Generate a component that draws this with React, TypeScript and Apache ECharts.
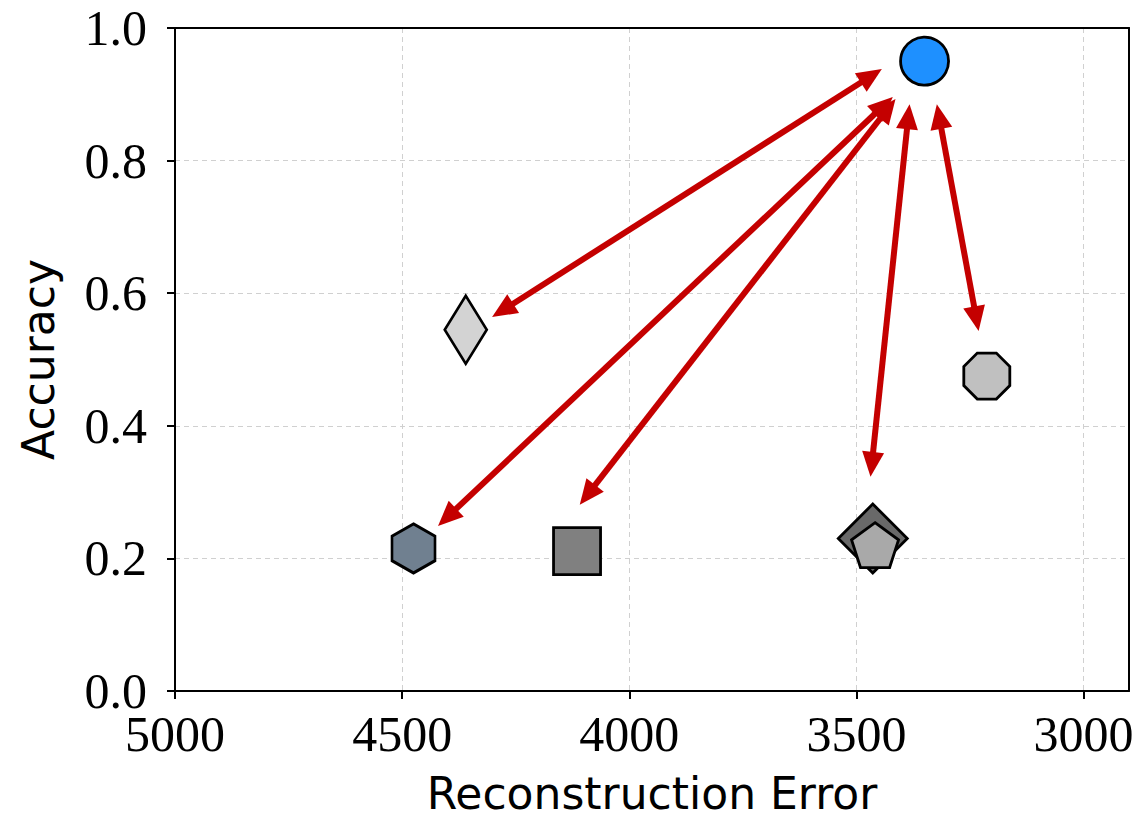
import React, { useEffect, useRef } from "react";
import * as echarts from "echarts";

// Marker values (Reconstruction Error, Accuracy)
const errors = [3350, 4360, 4475, 4115, 3464, 3459, 3213];
const accuracies = [0.95, 0.545, 0.215, 0.211, 0.23, 0.22, 0.475];

// Double-headed arrows (data coordinates)
const arrowFromX = [3444, 3420, 3414, 3383, 3323];
const arrowFromY = [0.938, 0.896, 0.893, 0.885, 0.885];
const arrowToX = [4302, 4421, 4109, 3469, 3231];
const arrowToY = [0.564, 0.249, 0.281, 0.323, 0.543];

// Axis ticks
const xTicks = [3000, 3500, 4000, 4500, 5000];

const RED = "#c40000";
const HEX = "path://M0,-1 L0.866,-0.5 L0.866,0.5 L0,1 L-0.866,0.5 L-0.866,-0.5 Z";
const PENT = "path://M0,-1 L0.951,-0.309 L0.588,0.809 L-0.588,0.809 L-0.951,-0.309 Z";
const OCT =
  "path://M-0.383,-0.924 L0.383,-0.924 L0.924,-0.383 L0.924,0.383 L0.383,0.924 L-0.383,0.924 L-0.924,0.383 L-0.924,-0.383 Z";

const markerStyles = [
  { symbol: "circle", size: 48, color: "#1e90ff" },
  { symbol: "diamond", size: [42, 68], color: "#d3d3d3" },
  { symbol: HEX, size: [43, 49], color: "#708090" },
  { symbol: "rect", size: 47, color: "#808080" },
  { symbol: "diamond", size: [69, 69], color: "#696969" },
  { symbol: PENT, size: [47, 45], color: "#a9a9a9" },
  { symbol: OCT, size: 46, color: "#c0c0c0" },
];

export default function App() {
  const ref = useRef<HTMLDivElement>(null);
  useEffect(() => {
    if (!ref.current) return;
    const chart = echarts.init(ref.current, null, { renderer: "svg" });
    const serifFont = "Liberation Serif";
    const scatterSeries = errors.map((e, i) => ({
      type: "scatter",
      data: [[e, accuracies[i]]],
      symbol: markerStyles[i].symbol,
      symbolSize: markerStyles[i].size,
      itemStyle: {
        color: markerStyles[i].color,
        borderColor: "#000",
        borderWidth: 2.8,
        opacity: 1,
      },
      z: 3,
      emphasis: { disabled: true },
    }));
    const arrowData = arrowFromX.map((x, i) => [x, arrowFromY[i], arrowToX[i], arrowToY[i]]);
    const frameAxis = {
      type: "value",
      axisLine: { show: true, onZero: false, lineStyle: { color: "#000", width: 2 } },
      axisTick: { show: false },
      axisLabel: { show: false },
      splitLine: { show: false },
    };
    chart.setOption({
      animation: false,
      grid: {
        left: 175,
        right: 14,
        top: 28,
        bottom: 131,
      },
      xAxis: [
        {
          type: "value",
          inverse: true,
          min: 2900,
          max: 5000,
          name: "Reconstruction Error",
          nameLocation: "middle",
          nameGap: 80,
          nameTextStyle: { fontFamily: "DejaVu Sans", fontSize: 44, color: "#000" },
          axisLine: { show: true, onZero: false, lineStyle: { color: "#000", width: 2 } },
          axisTick: { show: true, customValues: xTicks, length: 8, lineStyle: { color: "#000", width: 2 } },
          axisLabel: {
            customValues: xTicks,
            margin: 25,
            fontFamily: serifFont,
            fontSize: 50,
            lineHeight: 36,
            color: "#000",
            formatter: (v: number) => String(v),
          },
          splitLine: { show: true, lineStyle: { color: "#d0d0d0", width: 1, type: [5, 4] } },
        },
        { ...frameAxis, position: "top", inverse: true, min: 2900, max: 5000 },
      ],
      yAxis: [
        {
          type: "value",
          min: 0,
          max: 1,
          interval: 0.2,
          name: "Accuracy",
          nameLocation: "middle",
          nameGap: 115,
          nameTextStyle: { fontFamily: "DejaVu Sans", fontSize: 44, color: "#000" },
          axisLine: { show: true, onZero: false, lineStyle: { color: "#000", width: 2 } },
          axisTick: { show: true, length: 8, lineStyle: { color: "#000", width: 2 } },
          axisLabel: {
            margin: 28,
            fontFamily: serifFont,
            fontSize: 50,
            lineHeight: 36,
            color: "#000",
            formatter: (v: number) => v.toFixed(1),
          },
          splitLine: { show: true, lineStyle: { color: "#d0d0d0", width: 1, type: [5, 4] } },
        },
        { ...frameAxis, position: "right", min: 0, max: 1 },
      ],
      series: [
        ...scatterSeries,
        {
          type: "custom",
          coordinateSystem: "cartesian2d",
          data: arrowData,
          encode: { x: [0, 2], y: [1, 3] },
          z: 4,
          silent: true,
          renderItem: (params: any, api: any) => {
            const p1 = api.coord([api.value(0), api.value(1)]);
            const p2 = api.coord([api.value(2), api.value(3)]);
            const dx = p2[0] - p1[0];
            const dy = p2[1] - p1[1];
            const len = Math.hypot(dx, dy);
            const ux = dx / len;
            const uy = dy / len;
            const nx = -uy;
            const ny = ux;
            const hl = 25;
            const hw = 11;
            const a = [p1[0] + ux * hl, p1[1] + uy * hl];
            const b = [p2[0] - ux * hl, p2[1] - uy * hl];
            const la = [p1[0] + ux * hl * 0.6, p1[1] + uy * hl * 0.6];
            const lb = [p2[0] - ux * hl * 0.6, p2[1] - uy * hl * 0.6];
            return {
              type: "group",
              children: [
                {
                  type: "line",
                  shape: { x1: la[0], y1: la[1], x2: lb[0], y2: lb[1] },
                  style: { stroke: RED, lineWidth: 6 },
                },
                {
                  type: "polygon",
                  shape: {
                    points: [
                      p1,
                      [a[0] + nx * hw, a[1] + ny * hw],
                      [a[0] - nx * hw, a[1] - ny * hw],
                    ],
                  },
                  style: { fill: RED },
                },
                {
                  type: "polygon",
                  shape: {
                    points: [
                      p2,
                      [b[0] + nx * hw, b[1] + ny * hw],
                      [b[0] - nx * hw, b[1] - ny * hw],
                    ],
                  },
                  style: { fill: RED },
                },
              ],
            };
          },
        },
      ],
    });
    return () => chart.dispose();
  }, []);
  return (
    <div
      ref={ref}
      style={{ position: "fixed", left: 0, top: 0, width: 1143, height: 822, background: "#fff" }}
    />
  );
}
